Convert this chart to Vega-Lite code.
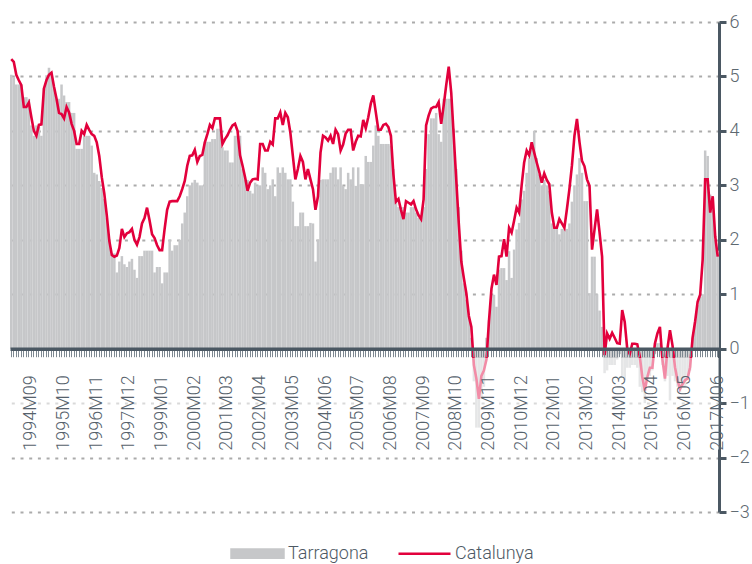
{
"$schema": "https://vega.github.io/schema/vega-lite/v6.json",
"width": 709, "height": 490,
"autosize": {"type": "none"},
"padding": {"left": 10, "top": 22, "right": 33, "bottom": 52},
"background": "#ffffff",
"config": {"view": {"stroke": null}, "font": "Roboto"},
"data": {"values": [
{"m":"1994M01","t":5.03,"c":5.32},{"m":"1994M02","t":4.99,"c":5.27},{"m":"1994M03","t":4.85,"c":5.03},{"m":"1994M04","t":4.85,"c":4.93},{"m":"1994M05","t":4.85,"c":4.84},{"m":"1994M06","t":4.62,"c":4.44},{"m":"1994M07","t":4.62,"c":4.44},{"m":"1994M08","t":4.59,"c":4.52},{"m":"1994M09","t":4.1,"c":4.25},{"m":"1994M10","t":3.91,"c":4.0},{"m":"1994M11","t":4.1,"c":3.91},{"m":"1994M12","t":4.07,"c":4.11},
{"m":"1995M01","t":3.91,"c":4.12},{"m":"1995M02","t":4.78,"c":4.78},{"m":"1995M03","t":5.02,"c":4.93},{"m":"1995M04","t":5.16,"c":5.03},{"m":"1995M05","t":5.08,"c":5.07},{"m":"1995M06","t":4.78,"c":4.81},{"m":"1995M07","t":4.59,"c":4.59},{"m":"1995M08","t":4.59,"c":4.33},{"m":"1995M09","t":4.85,"c":4.31},{"m":"1995M10","t":4.65,"c":4.23},{"m":"1995M11","t":4.53,"c":4.44},{"m":"1995M12","t":4.53,"c":4.34},
{"m":"1996M01","t":4.33,"c":4.13},{"m":"1996M02","t":4.33,"c":4.0},{"m":"1996M03","t":3.67,"c":3.76},{"m":"1996M04","t":3.67,"c":3.76},{"m":"1996M05","t":3.67,"c":4.0},{"m":"1996M06","t":3.91,"c":3.94},{"m":"1996M07","t":3.91,"c":4.11},{"m":"1996M08","t":3.91,"c":4.02},{"m":"1996M09","t":3.73,"c":3.94},{"m":"1996M10","t":3.23,"c":3.91},{"m":"1996M11","t":3.2,"c":3.79},{"m":"1996M12","t":3.08,"c":3.54},
{"m":"1997M01","t":2.95,"c":3.15},{"m":"1997M02","t":2.75,"c":2.85},{"m":"1997M03","t":2.4,"c":2.45},{"m":"1997M04","t":2.0,"c":1.98},{"m":"1997M05","t":1.75,"c":1.72},{"m":"1997M06","t":1.75,"c":1.69},{"m":"1997M07","t":1.4,"c":1.71},{"m":"1997M08","t":1.6,"c":1.85},{"m":"1997M09","t":1.7,"c":2.2},{"m":"1997M10","t":1.55,"c":2.05},{"m":"1997M11","t":1.5,"c":2.12},{"m":"1997M12","t":1.6,"c":2.14},
{"m":"1998M01","t":1.65,"c":2.2},{"m":"1998M02","t":1.45,"c":2.0},{"m":"1998M03","t":1.3,"c":1.91},{"m":"1998M04","t":1.7,"c":2.05},{"m":"1998M05","t":1.7,"c":2.3},{"m":"1998M06","t":1.8,"c":2.4},{"m":"1998M07","t":1.8,"c":2.59},{"m":"1998M08","t":1.8,"c":2.36},{"m":"1998M09","t":1.8,"c":2.1},{"m":"1998M10","t":1.4,"c":2.03},{"m":"1998M11","t":1.5,"c":1.9},{"m":"1998M12","t":1.5,"c":1.81},
{"m":"1999M01","t":1.2,"c":1.81},{"m":"1999M02","t":1.4,"c":2.2},{"m":"1999M03","t":1.4,"c":2.55},{"m":"1999M04","t":2.0,"c":2.7},{"m":"1999M05","t":1.8,"c":2.71},{"m":"1999M06","t":1.9,"c":2.71},{"m":"1999M07","t":1.9,"c":2.71},{"m":"1999M08","t":2.0,"c":2.8},{"m":"1999M09","t":2.3,"c":2.93},{"m":"1999M10","t":2.5,"c":3.08},{"m":"1999M11","t":2.8,"c":3.36},{"m":"1999M12","t":3.0,"c":3.54},
{"m":"2000M01","t":3.05,"c":3.55},{"m":"2000M02","t":3.1,"c":3.65},{"m":"2000M03","t":3.05,"c":3.43},{"m":"2000M04","t":3.0,"c":3.54},{"m":"2000M05","t":3.0,"c":3.56},{"m":"2000M06","t":3.8,"c":3.79},{"m":"2000M07","t":3.8,"c":3.94},{"m":"2000M08","t":3.8,"c":4.11},{"m":"2000M09","t":3.85,"c":4.05},{"m":"2000M10","t":3.85,"c":4.23},{"m":"2000M11","t":4.04,"c":4.23},{"m":"2000M12","t":4.04,"c":4.23},
{"m":"2001M01","t":3.7,"c":3.76},{"m":"2001M02","t":3.64,"c":3.85},{"m":"2001M03","t":3.64,"c":3.92},{"m":"2001M04","t":3.42,"c":4.02},{"m":"2001M05","t":3.42,"c":4.1},{"m":"2001M06","t":3.91,"c":4.13},{"m":"2001M07","t":3.91,"c":4.0},{"m":"2001M08","t":3.91,"c":3.55},{"m":"2001M09","t":3.3,"c":3.36},{"m":"2001M10","t":3.1,"c":3.15},{"m":"2001M11","t":3.1,"c":2.9},{"m":"2001M12","t":2.9,"c":3.05},
{"m":"2002M01","t":2.85,"c":3.11},{"m":"2002M02","t":3.05,"c":3.12},{"m":"2002M03","t":3.0,"c":3.11},{"m":"2002M04","t":3.0,"c":3.76},{"m":"2002M05","t":3.33,"c":3.76},{"m":"2002M06","t":3.23,"c":3.64},{"m":"2002M07","t":2.93,"c":3.64},{"m":"2002M08","t":3.0,"c":3.8},{"m":"2002M09","t":3.11,"c":3.75},{"m":"2002M10","t":2.8,"c":4.23},{"m":"2002M11","t":3.33,"c":4.23},{"m":"2002M12","t":3.23,"c":4.34},
{"m":"2003M01","t":3.33,"c":4.11},{"m":"2003M02","t":3.23,"c":4.33},{"m":"2003M03","t":3.11,"c":4.25},{"m":"2003M04","t":3.11,"c":3.97},{"m":"2003M05","t":2.7,"c":3.54},{"m":"2003M06","t":2.25,"c":3.11},{"m":"2003M07","t":2.25,"c":3.3},{"m":"2003M08","t":2.5,"c":3.54},{"m":"2003M09","t":2.5,"c":3.43},{"m":"2003M10","t":2.25,"c":3.11},{"m":"2003M11","t":2.25,"c":3.3},{"m":"2003M12","t":2.31,"c":3.11},
{"m":"2004M01","t":2.3,"c":2.93},{"m":"2004M02","t":1.6,"c":2.55},{"m":"2004M03","t":2.0,"c":2.8},{"m":"2004M04","t":3.1,"c":3.6},{"m":"2004M05","t":3.11,"c":3.91},{"m":"2004M06","t":3.11,"c":3.88},{"m":"2004M07","t":3.11,"c":3.82},{"m":"2004M08","t":3.23,"c":3.91},{"m":"2004M09","t":3.33,"c":3.76},{"m":"2004M10","t":3.33,"c":4.02},{"m":"2004M11","t":3.11,"c":3.94},{"m":"2004M12","t":3.33,"c":3.64},
{"m":"2005M01","t":2.99,"c":3.75},{"m":"2005M02","t":2.93,"c":3.95},{"m":"2005M03","t":3.23,"c":4.02},{"m":"2005M04","t":3.11,"c":4.02},{"m":"2005M05","t":3.33,"c":3.64},{"m":"2005M06","t":2.99,"c":3.8},{"m":"2005M07","t":3.33,"c":3.91},{"m":"2005M08","t":3.02,"c":3.9},{"m":"2005M09","t":3.02,"c":4.2},{"m":"2005M10","t":3.54,"c":4.05},{"m":"2005M11","t":3.43,"c":4.25},{"m":"2005M12","t":3.43,"c":4.5},
{"m":"2006M01","t":3.73,"c":4.65},{"m":"2006M02","t":4.1,"c":4.34},{"m":"2006M03","t":3.91,"c":4.02},{"m":"2006M04","t":3.76,"c":4.02},{"m":"2006M05","t":3.76,"c":4.11},{"m":"2006M06","t":3.76,"c":4.13},{"m":"2006M07","t":3.76,"c":4.07},{"m":"2006M08","t":3.73,"c":3.91},{"m":"2006M09","t":3.3,"c":3.2},{"m":"2006M10","t":2.7,"c":2.7},{"m":"2006M11","t":2.6,"c":2.75},{"m":"2006M12","t":2.6,"c":2.55},
{"m":"2007M01","t":2.6,"c":2.38},{"m":"2007M02","t":2.5,"c":2.71},{"m":"2007M03","t":2.5,"c":2.68},{"m":"2007M04","t":2.6,"c":2.65},{"m":"2007M05","t":2.6,"c":2.71},{"m":"2007M06","t":2.5,"c":2.56},{"m":"2007M07","t":2.4,"c":2.45},{"m":"2007M08","t":2.4,"c":2.38},{"m":"2007M09","t":2.6,"c":2.74},{"m":"2007M10","t":3.3,"c":4.1},{"m":"2007M11","t":3.94,"c":4.28},{"m":"2007M12","t":4.23,"c":4.41},
{"m":"2008M01","t":4.23,"c":4.44},{"m":"2008M02","t":4.33,"c":4.44},{"m":"2008M03","t":3.94,"c":4.53},{"m":"2008M04","t":3.8,"c":4.13},{"m":"2008M05","t":4.59,"c":4.47},{"m":"2008M06","t":4.59,"c":4.84},{"m":"2008M07","t":4.59,"c":5.18},{"m":"2008M08","t":4.59,"c":4.7},{"m":"2008M09","t":4.04,"c":3.9},{"m":"2008M10","t":3.3,"c":3.1},{"m":"2008M11","t":2.6,"c":2.3},{"m":"2008M12","t":1.8,"c":1.6},
{"m":"2009M01","t":1.2,"c":1.3},{"m":"2009M02","t":0.9,"c":1.02},{"m":"2009M03","t":0.6,"c":0.6},{"m":"2009M04","t":0.2,"c":0.4},{"m":"2009M05","t":-0.6,"c":-0.3},{"m":"2009M06","t":-1.45,"c":-0.55},{"m":"2009M07","t":-1.45,"c":-0.92},{"m":"2009M08","t":-0.9,"c":-0.5},{"m":"2009M09","t":-0.7,"c":-0.4},{"m":"2009M10","t":0.2,"c":-0.2},{"m":"2009M11","t":0.52,"c":0.5},{"m":"2009M12","t":0.99,"c":1.1},
{"m":"2010M01","t":0.99,"c":1.36},{"m":"2010M02","t":0.77,"c":1.17},{"m":"2010M03","t":1.45,"c":1.69},{"m":"2010M04","t":1.48,"c":1.7},{"m":"2010M05","t":1.48,"c":2.01},{"m":"2010M06","t":1.26,"c":1.69},{"m":"2010M07","t":1.79,"c":2.22},{"m":"2010M08","t":1.3,"c":2.13},{"m":"2010M09","t":1.82,"c":2.35},{"m":"2010M10","t":2.19,"c":2.59},{"m":"2010M11","t":2.31,"c":2.5},{"m":"2010M12","t":2.74,"c":3.0},
{"m":"2011M01","t":2.9,"c":3.42},{"m":"2011M02","t":3.23,"c":3.64},{"m":"2011M03","t":3.5,"c":3.55},{"m":"2011M04","t":3.73,"c":3.79},{"m":"2011M05","t":4.0,"c":3.6},{"m":"2011M06","t":3.5,"c":3.42},{"m":"2011M07","t":3.2,"c":3.25},{"m":"2011M08","t":3.0,"c":3.05},{"m":"2011M09","t":3.1,"c":3.22},{"m":"2011M10","t":3.0,"c":3.1},{"m":"2011M11","t":2.9,"c":3.02},{"m":"2011M12","t":2.3,"c":2.5},
{"m":"2012M01","t":2.2,"c":2.22},{"m":"2012M02","t":2.2,"c":2.22},{"m":"2012M03","t":2.1,"c":2.38},{"m":"2012M04","t":2.2,"c":2.3},{"m":"2012M05","t":2.2,"c":2.22},{"m":"2012M06","t":2.2,"c":2.56},{"m":"2012M07","t":2.3,"c":2.93},{"m":"2012M08","t":2.7,"c":3.36},{"m":"2012M09","t":3.0,"c":3.91},{"m":"2012M10","t":3.2,"c":4.22},{"m":"2012M11","t":3.5,"c":3.8},{"m":"2012M12","t":3.23,"c":3.45},
{"m":"2013M01","t":2.71,"c":3.35},{"m":"2013M02","t":2.71,"c":3.11},{"m":"2013M03","t":1.02,"c":2.99},{"m":"2013M04","t":1.69,"c":1.82},{"m":"2013M05","t":1.69,"c":2.19},{"m":"2013M06","t":1.0,"c":2.56},{"m":"2013M07","t":0.7,"c":2.13},{"m":"2013M08","t":0.4,"c":1.69},{"m":"2013M09","t":-0.45,"c":-0.12},{"m":"2013M10","t":-0.4,"c":0.28},{"m":"2013M11","t":-0.3,"c":0.18},{"m":"2013M12","t":-0.3,"c":0.29},
{"m":"2014M01","t":-0.3,"c":0.2},{"m":"2014M02","t":-0.2,"c":0.1},{"m":"2014M03","t":-0.1,"c":0.09},{"m":"2014M04","t":-0.5,"c":0.71},{"m":"2014M05","t":-0.58,"c":0.49},{"m":"2014M06","t":-0.35,"c":0.0},{"m":"2014M07","t":-0.35,"c":-0.1},{"m":"2014M08","t":-0.3,"c":0.09},{"m":"2014M09","t":-0.3,"c":0.09},{"m":"2014M10","t":-0.35,"c":0.08},{"m":"2014M11","t":-0.7,"c":-0.15},{"m":"2014M12","t":-0.8,"c":-0.52},
{"m":"2015M01","t":-1.0,"c":-0.77},{"m":"2015M02","t":-0.5,"c":-0.52},{"m":"2015M03","t":-0.5,"c":-0.35},{"m":"2015M04","t":-0.4,"c":-0.35},{"m":"2015M05","t":-0.1,"c":0.09},{"m":"2015M06","t":0.1,"c":0.28},{"m":"2015M07","t":0.1,"c":0.4},{"m":"2015M08","t":-0.3,"c":-0.2},{"m":"2015M09","t":-0.6,"c":-0.55},{"m":"2015M10","t":-0.5,"c":0.0},{"m":"2015M11","t":-0.95,"c":0.34},{"m":"2015M12","t":-0.5,"c":0.06},
{"m":"2016M01","t":-0.6,"c":-0.34},{"m":"2016M02","t":-0.7,"c":-0.58},{"m":"2016M03","t":-0.8,"c":-0.74},{"m":"2016M04","t":-0.7,"c":-0.65},{"m":"2016M05","t":-0.7,"c":-0.58},{"m":"2016M06","t":-0.5,"c":-0.55},{"m":"2016M07","t":-0.4,"c":-0.34},{"m":"2016M08","t":0.2,"c":0.2},{"m":"2016M09","t":0.5,"c":0.5},{"m":"2016M10","t":0.8,"c":0.86},{"m":"2016M11","t":0.95,"c":0.99},{"m":"2016M12","t":1.0,"c":1.63},
{"m":"2017M01","t":3.64,"c":3.11},{"m":"2017M02","t":3.54,"c":3.11},{"m":"2017M03","t":2.83,"c":2.5},{"m":"2017M04","t":2.8,"c":2.8},{"m":"2017M05","t":2.0,"c":2.06},{"m":"2017M06","t":1.8,"c":1.69}
]},
"layer": [
{
"mark": {"type": "bar"},
"encoding": {
"x": {"field": "m", "type": "ordinal", "sort": null,
 "scale": {"paddingInner": 0, "paddingOuter": 0},
 "axis": {"title": null, "offset": -163.3, "zindex": 1, "grid": false,
  "domainColor": "#4b5863", "domainWidth": 3.5,
  "tickColor": "#7d8891", "tickSize": 8, "tickWidth": 1,
  "labelAngle": 270, "labelPadding": 18, "labelFont": "Roboto", "labelFontSize": 18, "labelFontWeight": 300, "labelColor": "#56626c",
  "labelOverlap": false, "labelBound": false, "labelFlush": false,
  "labelExpr": "((toNumber(slice(datum.value,0,4))-1994)*12+toNumber(slice(datum.value,5,7))-9)%13===0 ? datum.value : ''"}},
"y": {"field": "t", "type": "quantitative",
 "scale": {"domain": [-3, 6], "nice": false, "zero": false},
 "axis": {"title": null, "orient": "right", "values": [-3,-2,-1,0,1,2,3,4,5,6], "format": "d",
  "domainColor": "#4b5863", "domainWidth": 3, "tickColor": "#4b5863", "tickWidth": 3, "tickSize": 7,
  "labelFont": "Roboto", "labelFontSize": 18, "labelFontWeight": 300, "labelColor": "#5d6870", "labelPadding": 3,
  "grid": true, "gridColor": "#ababab", "gridDash": [3, 5.7], "gridWidth": 1.8}},
"color": {"datum": "Tarragona",
 "scale": {"domain": ["Tarragona", "Catalunya"], "range": ["#c6c7c9", "#e2003c"]},
 "legend": {"orient": "none", "legendX": 220, "legendY": 504, "direction": "horizontal", "title": null,
  "symbolSize": 2704, "labelFont": "Roboto", "labelFontSize": 18, "labelFontWeight": 300, "labelColor": "#4d5964",
  "labelOffset": 3, "columnPadding": 24, "padding": 0,
  "encode": {"symbols": {"update": {
   "shape": {"signal": "datum.value === 'Tarragona' ? 'M-1,-0.16H1V0.16H-1Z' : 'M-1,0H1'"},
   "fill": {"signal": "datum.value === 'Tarragona' ? '#a6aaae' : 'transparent'"},
   "stroke": {"signal": "datum.value === 'Tarragona' ? 'transparent' : '#e2003c'"},
   "strokeWidth": {"value": 2.5},
   "opacity": {"value": 1}}}}}}
}
},
{
"mark": {"type": "line", "strokeWidth": 2.6},
"encoding": {
"x": {"field": "m", "type": "ordinal", "sort": null},
"y": {"field": "c", "type": "quantitative"},
"color": {"datum": "Catalunya"}
}
},
{
"data": {"values": [{}]},
"mark": {"type": "rect", "fill": "#ffffff", "opacity": 0.55},
"encoding": {"y": {"datum": -0.17}, "y2": {"datum": -1.85}}
}
]
}
